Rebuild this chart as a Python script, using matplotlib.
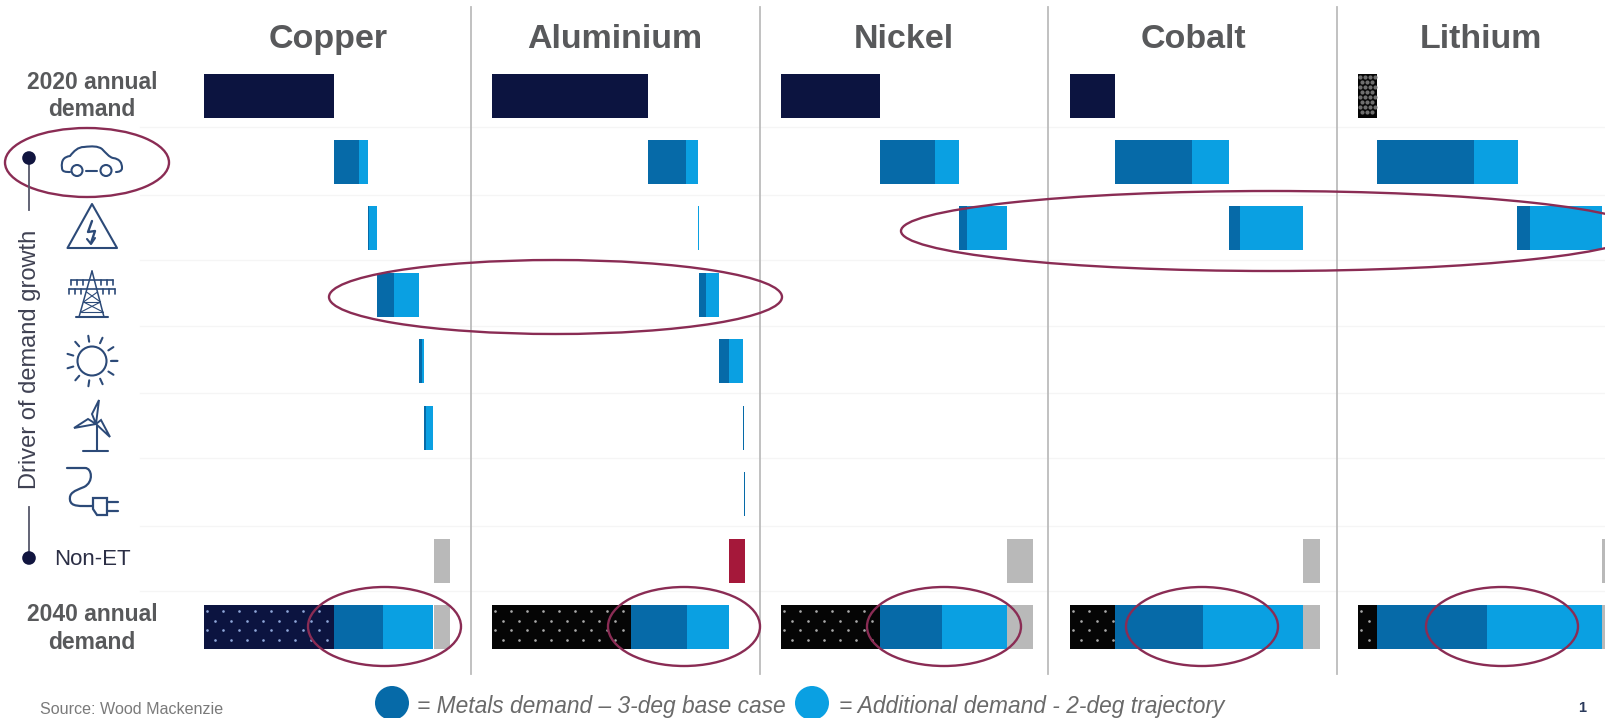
import numpy as np
import matplotlib
matplotlib.use("Agg")
import matplotlib.pyplot as plt
from matplotlib.patches import Ellipse, Circle, Polygon, PathPatch
from matplotlib.path import Path

plt.rcParams["font.family"] = ["Liberation Sans", "DejaVu Sans"]

# Demand bars, in chart units, one entry per driver of growth
metals = ["Copper", "Aluminium", "Nickel", "Cobalt", "Lithium"]
demand_2020 = [130, 155.5, 99, 45, 19]
base_case = [
    [25, 1, 17, 3, 2, 0.7],
    [38, 0.5, 6.5, 10, 0.3, 0.5],
    [55, 7.5, 0, 0, 0, 0],
    [77.5, 10.5, 0, 0, 0, 0],
    [97, 13, 0, 0, 0, 0],
]
additional = [
    [9, 7.5, 25, 2.5, 6.5, 0.3],
    [12, 1, 13.5, 14, 0.5, 0.7],
    [24.5, 40.5, 0, 0, 0, 0],
    [37, 63, 0, 0, 0, 0],
    [43.5, 72, 0, 0, 0, 0],
]
non_et = [16, -16.5, 26, 17, 18]
panel_origin = [204, 492.5, 781, 1070, 1358]
panel_span = [267, 267, 267, 267, 248]
title_x = [328, 615, 904, 1193, 1481]
divider_x = [471.5, 760, 1048.5, 1337]
separator_y = [127, 195, 260, 326, 393, 458, 526, 591]

NAVY = "#0c1440"
BLACK = "#050505"
DARK = "#066aa8"
LIGHT = "#0aa0e2"
GREY = "#b9b9b9"
RED = "#a5183a"
TEXT = "#58595b"
ICON = "#2c4a78"
RING = "#8a2c54"

W, H = 1606, 718
fig = plt.figure(figsize=(W / 100, H / 100), dpi=100, facecolor="white")


def px_axes(zorder):
    ax = fig.add_axes([0, 0, 1, 1], zorder=zorder)
    ax.set_xlim(0, W)
    ax.set_ylim(H, 0)
    ax.axis("off")
    return ax


back = px_axes(0)
front = px_axes(10)

for y in separator_y:
    back.plot([140, W], [y, y], color="#f5f5f5", lw=1)
for x in divider_x:
    back.plot([x, x], [7, 674], color="#bcbcbc", lw=1.3)

ROW_PX = 66.4
BAR_H = 44 / ROW_PX
TOP_PX = 95.5 - ROW_PX / 2
BOTTOM_PX = 627 + ROW_PX / 2


def dotted(ax, start, length, row, xstep, ystep, stagger, color, size):
    """Overlay a staggered dot pattern on one horizontal segment."""
    half = BAR_H / 2 - 0.02
    ys = np.arange(row - half + ystep / 2, row + half, ystep)
    for i, y in enumerate(ys):
        xs = np.arange(start + 3 + (stagger if i % 2 else 0), start + length - 1, xstep, dtype=float)
        ax.plot(xs, np.full_like(xs, y), ls="none", marker="o", ms=size,
                mfc=color, mec="none", zorder=4)


for m, metal in enumerate(metals):
    left = panel_origin[m] / W
    width = panel_span[m] / W
    ax = fig.add_axes([left, 1 - BOTTOM_PX / H, width, (BOTTOM_PX - TOP_PX) / H], zorder=5)
    ax.set_xlim(0, panel_span[m])
    ax.set_ylim(8.5, -0.5)
    ax.axis("off")
    ax.patch.set_alpha(0)

    start_color = BLACK if m else NAVY
    first_color = BLACK if m == 4 else NAVY
    ax.barh(0, demand_2020[m], height=BAR_H, color=first_color, lw=0)
    if m == 4:
        dotted(ax, -1.5, demand_2020[m] + 1, 0, 5, 5 / ROW_PX, 2.5, "#6e6e6e", 3)

    cum = demand_2020[m]
    for r, (b, a) in enumerate(zip(base_case[m], additional[m]), start=1):
        ax.barh(r, b, left=cum, height=BAR_H, color=DARK, lw=0)
        ax.barh(r, a, left=cum + b, height=BAR_H, color=LIGHT, lw=0)
        cum += b + a

    if non_et[m] >= 0:
        ax.barh(7, non_et[m], left=cum, height=BAR_H, color=GREY, lw=0)
    else:
        ax.barh(7, -non_et[m], left=cum + non_et[m], height=BAR_H, color=RED, lw=0)

    kept = demand_2020[m] + min(non_et[m], 0)
    base_total = sum(base_case[m])
    add_total = sum(additional[m])
    ax.barh(8, kept, height=BAR_H, color=start_color, lw=0)
    dotted(ax, 0, kept, 8, 16, 9.5 / ROW_PX, 8,
           "#8fa6d8" if m == 0 else "#a8a8a8", 1.9)
    ax.barh(8, base_total, left=kept, height=BAR_H, color=DARK, lw=0)
    ax.barh(8, add_total, left=kept + base_total, height=BAR_H, color=LIGHT, lw=0)
    if non_et[m] > 0:
        ax.barh(8, non_et[m], left=kept + base_total + add_total, height=BAR_H,
                color=GREY, lw=0)

    front.text(title_x[m], 48, metal, ha="center", va="baseline", fontsize=24.5,
               fontweight="bold", color=TEXT)

# Row labels
for y, label in [(96, "2020 annual\ndemand"), (628.5, "2040 annual\ndemand")]:
    front.text(92, y, label, ha="center", va="center", fontsize=16.5, fontweight="bold",
               color=TEXT, linespacing=1.27)
front.text(92, 559.5, "Non-ET", ha="center", va="center", fontsize=16, color="#2b2e45")
front.text(30, 359, "Driver of demand growth", rotation=90, ha="center", va="center",
           fontsize=17, color="#3f4152")

# Axis bracket for the driver rows
for ys in ([158, 210], [507, 558]):
    front.plot([29, 29], ys, color="#55576a", lw=1.3, zorder=2)
for y in (158, 558):
    front.add_patch(Circle((29, y), 6.8, color="#11153f", lw=0, zorder=3))


def stroke(xs, ys, lw=1.5, color=ICON):
    front.plot(xs, ys, color=color, lw=lw, solid_capstyle="round", solid_joinstyle="round")


def curve(points, lw=1.5):
    codes = [Path.MOVETO] + [Path.CURVE4] * (len(points) - 1)
    front.add_patch(PathPatch(Path(points, codes), fc="none", ec=ICON, lw=lw, capstyle="round"))


def ring(cx, cy, r, lw=1.5):
    front.add_patch(Circle((cx, cy), r, fc="none", ec=ICON, lw=lw))


# Electric vehicle
curve([(70, 172), (66, 172), (62, 172), (62, 168), (61, 160), (64, 157), (70, 156),
       (74, 151), (78, 147), (84, 147), (92, 146), (98, 146), (102, 149), (106, 153),
       (109, 157), (113, 158), (120, 159), (122, 163), (122, 168), (122, 171), (119, 172), (116, 172)])
ring(77, 170.5, 5.5)
ring(106, 170.5, 5.5)
stroke([86, 97], [170.5, 170.5])

# Electricity hazard triangle
front.add_patch(Polygon([(92, 204), (117, 248), (67.5, 248)], closed=True, fc="none",
                        ec=ICON, lw=1.5, joinstyle="round"))
stroke([92, 88, 95, 91], [221, 232, 231, 243], lw=1.7)
stroke([87, 91, 95], [239, 244, 238], lw=1.5)

# Transmission pylon
stroke([92, 79], [271, 317], lw=1.1)
stroke([92, 104], [271, 317], lw=1.1)
stroke([76, 108], [317, 317], lw=1.5)
for y0, half in [(280, 21), (289, 23)]:
    stroke([92 - half, 92 + half], [y0, y0], lw=1.2)
    for dx in (-half, -half + 6, -half + 12, half - 12, half - 6, half):
        stroke([92 + dx, 92 + dx], [y0, y0 + 5], lw=1.2)
for y0, y1, hw0, hw1 in [(292, 302, 5.5, 8.5), (302, 312, 8.5, 11)]:
    stroke([92 - hw0, 92 + hw1], [y0, y1], lw=0.8)
    stroke([92 + hw0, 92 - hw1], [y0, y1], lw=0.8)
stroke([84, 100], [302, 302], lw=0.8)
stroke([81, 103], [312, 312], lw=0.8)

# Sun
ring(92, 361, 14.5)
for ang in np.deg2rad(np.arange(0, 360, 32.7)):
    stroke([92 + 19.5 * np.cos(ang), 92 + 25.5 * np.cos(ang)],
           [361 + 19.5 * np.sin(ang), 361 + 25.5 * np.sin(ang)])

# Wind turbine
stroke([97, 97], [426, 450])
stroke([83, 108], [451, 451])
front.add_patch(Polygon([(96, 424), (99, 400), (92, 414)], closed=True, fc="none", ec=ICON, lw=1.4))
front.add_patch(Polygon([(96, 424), (74, 428), (88, 419)], closed=True, fc="none", ec=ICON, lw=1.4))
front.add_patch(Polygon([(96, 424), (110, 437), (101, 420)], closed=True, fc="none", ec=ICON, lw=1.4))

# Charging cable and plug
curve([(67, 468), (74, 468), (80, 468), (85, 468),
       (92, 468), (94, 482), (84, 487),
       (74, 491), (69, 493), (70, 500),
       (71, 507), (80, 506), (92, 506)], lw=1.6)
front.add_patch(Polygon([(93, 498), (107, 498), (107, 515), (97, 515), (93, 509)], closed=True,
                        fc="none", ec=ICON, lw=1.6))
stroke([107, 118], [502, 502], lw=1.6)
stroke([107, 118], [511, 511], lw=1.6)

# Highlight rings
for cx, cy, w, h, in [(87, 162.5, 164, 69), (555.5, 297, 453, 74), (1271, 231, 740, 80),
                      (384.5, 626.5, 153, 79), (684, 626.5, 152, 79), (944, 626.5, 154, 79),
                      (1202, 626.5, 152, 79), (1502, 626.5, 152, 79)]:
    front.add_patch(Ellipse((cx, cy), w, h, fc="none", ec=RING, lw=1.7))

# Key and footer
front.add_patch(Circle((392, 703), 17, color=DARK, lw=0))
front.add_patch(Circle((812, 703), 17, color=LIGHT, lw=0))
front.text(417, 707, "= Metals demand \u2013 3-deg base case", ha="left", va="center",
           fontsize=16.4, style="italic", color="#6a6a6a")
front.text(839, 707, "= Additional demand - 2-deg trajectory", ha="left", va="center",
           fontsize=16.4, style="italic", color="#6a6a6a")
front.text(40, 710, "Source: Wood Mackenzie", ha="left", va="center", fontsize=11.6, color="#7a7a7a")
front.text(1582, 708, "1", ha="center", va="center", fontsize=10.5, fontweight="bold", color="#2b3a5c")

fig.savefig("out.png", dpi=100)
